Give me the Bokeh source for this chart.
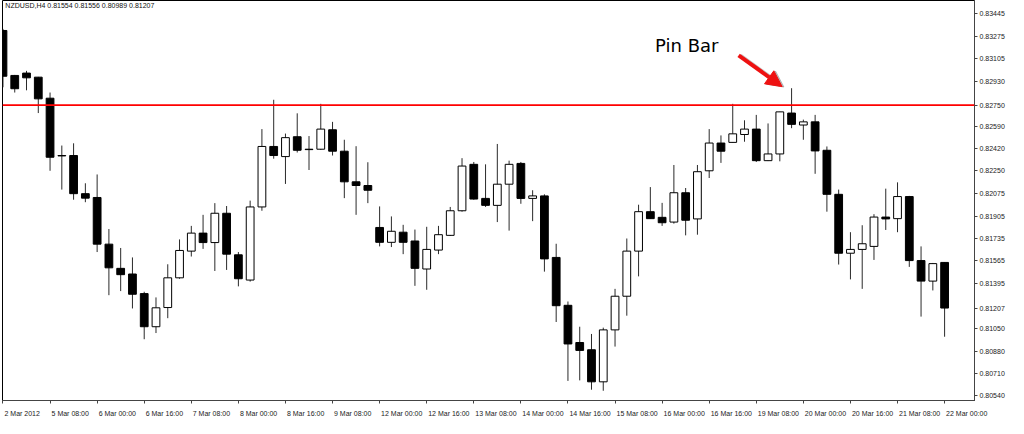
from bokeh.plotting import figure
from bokeh.models import (ColumnDataSource, FixedTicker, Span, Label, LinearAxis,
                          Arrow, NormalHead, Range1d)
from bokeh.embed import file_html
from bokeh.resources import INLINE

# ---- data (NZDUSD, H4) ----
opens = [0.83318, 0.82976, 0.82994, 0.82963, 0.82803, 0.82367, 0.82367, 0.82077, 0.82048, 0.81693,
         0.81509, 0.81466, 0.81317, 0.81065, 0.81211, 0.81437, 0.81640, 0.81777, 0.81705, 0.81928,
         0.81612, 0.81420, 0.81976, 0.82436, 0.82359, 0.82510, 0.82415, 0.82415, 0.82563, 0.82400,
         0.82167, 0.82139, 0.81820, 0.81707, 0.81784, 0.81717, 0.81504, 0.81648, 0.81760, 0.81947,
         0.82300, 0.82041, 0.81988, 0.82149, 0.82307, 0.82041, 0.82060, 0.81592, 0.81228, 0.80945,
         0.80890, 0.80646, 0.81041, 0.81297, 0.81640, 0.81940, 0.81897, 0.81861, 0.82084, 0.81885,
         0.82251, 0.82462, 0.82467, 0.82527, 0.82568, 0.82328, 0.82379, 0.82690, 0.82599, 0.82623,
         0.82407, 0.82072, 0.81624, 0.81653, 0.81676, 0.81899, 0.81887, 0.82055, 0.81568, 0.81412,
         0.81554]
highs = [0.83330, 0.82980, 0.83011, 0.82965, 0.82846, 0.82443, 0.82460, 0.82156, 0.82223, 0.81808,
         0.81664, 0.81592, 0.81331, 0.81288, 0.81540, 0.81729, 0.81832, 0.81916, 0.82005, 0.81983,
         0.81633, 0.82024, 0.82568, 0.82791, 0.82534, 0.82688, 0.82515, 0.82760, 0.82623, 0.82487,
         0.82438, 0.82316, 0.81980, 0.81904, 0.81840, 0.81804, 0.81825, 0.81832, 0.81976, 0.82347,
         0.82318, 0.82300, 0.82455, 0.82328, 0.82318, 0.82103, 0.82072, 0.81696, 0.81257, 0.81065,
         0.81010, 0.81058, 0.81353, 0.81736, 0.81993, 0.82127, 0.82007, 0.82295, 0.82120, 0.82295,
         0.82568, 0.82520, 0.82760, 0.82635, 0.82676, 0.82611, 0.82700, 0.82879, 0.82640, 0.82676,
         0.82436, 0.82108, 0.81784, 0.81837, 0.81921, 0.82115, 0.82163, 0.82060, 0.81676, 0.81550,
         0.81556]
lows = [0.82886, 0.82846, 0.82863, 0.82690, 0.82251, 0.82108, 0.82031, 0.82012, 0.81633, 0.81305,
        0.81336, 0.81204, 0.80970, 0.81017, 0.81130, 0.81430, 0.81599, 0.81657, 0.81489, 0.81497,
        0.81372, 0.81408, 0.81947, 0.82343, 0.82151, 0.82390, 0.82257, 0.82410, 0.82367, 0.82043,
        0.81916, 0.82005, 0.81676, 0.81671, 0.81617, 0.81376, 0.81346, 0.81617, 0.81755, 0.81940,
        0.82031, 0.81976, 0.81861, 0.81796, 0.82000, 0.81868, 0.81484, 0.81101, 0.80653, 0.80657,
        0.80586, 0.80578, 0.80914, 0.81149, 0.81448, 0.81885, 0.81832, 0.81849, 0.81760, 0.81765,
        0.82196, 0.82311, 0.82465, 0.82472, 0.82318, 0.82325, 0.82323, 0.82575, 0.82487, 0.82228,
        0.81940, 0.81538, 0.81425, 0.81353, 0.81573, 0.81801, 0.81784, 0.81520, 0.81142, 0.81341,
        0.80989]
closes = [0.82970, 0.82875, 0.82958, 0.82798, 0.82354, 0.82364, 0.82077, 0.82043, 0.81693, 0.81513,
          0.81461, 0.81312, 0.81065, 0.81209, 0.81437, 0.81645, 0.81777, 0.81705, 0.81928, 0.81617,
          0.81430, 0.81976, 0.82436, 0.82367, 0.82503, 0.82407, 0.82412, 0.82568, 0.82400, 0.82167,
          0.82139, 0.82103, 0.81707, 0.81791, 0.81707, 0.81509, 0.81653, 0.81765, 0.81947, 0.82287,
          0.82036, 0.81988, 0.82149, 0.82300, 0.82041, 0.82060, 0.81581, 0.81225, 0.80934, 0.80885,
          0.80646, 0.81041, 0.81297, 0.81640, 0.81940, 0.81887, 0.81856, 0.82084, 0.81875, 0.82244,
          0.82462, 0.82400, 0.82532, 0.82568, 0.82328, 0.82379, 0.82699, 0.82604, 0.82623, 0.82402,
          0.82072, 0.81624, 0.81653, 0.81696, 0.81899, 0.81885, 0.82055, 0.81568, 0.81412, 0.81545,
          0.81207]

x_tick_labels = ["2 Mar 2012", "5 Mar 08:00", "6 Mar 00:00", "6 Mar 16:00", "7 Mar 08:00",
                 "8 Mar 00:00", "8 Mar 16:00", "9 Mar 08:00", "12 Mar 00:00", "12 Mar 16:00",
                 "13 Mar 08:00", "14 Mar 00:00", "14 Mar 16:00", "15 Mar 08:00", "16 Mar 00:00",
                 "16 Mar 16:00", "19 Mar 08:00", "20 Mar 00:00", "20 Mar 16:00", "21 Mar 08:00",
                 "22 Mar 00:00"]
x_tick_bars = [0, 4, 8, 12, 16, 20, 24, 28, 32, 36, 40, 44, 48, 52, 56, 60, 64, 68, 72, 76, 80]
y_tick_values = [0.83445, 0.83275, 0.83105, 0.82930, 0.82750, 0.82590, 0.82420, 0.82250,
                 0.82075, 0.81905, 0.81735, 0.81565, 0.81395, 0.81207, 0.81050, 0.80880,
                 0.80710, 0.80540]

symbol_title = "NZDUSD,H4  0.81554 0.81556 0.80989 0.81207"
level_price = 0.82750
pin_text = "Pin Bar"
pin_text_pos = (55.4, 0.83201)
arrow_start = (62.5, 0.83129)
arrow_end = (66.2, 0.82891)

# ---- layout / style ----
FONT = "Liberation Sans"
FS = 7.0
FRAME_W = 972
FRAME_H = 400
X0, X1 = -0.04, 82.54
Y0, Y1 = 0.80504, 0.83546
px_per_bar = FRAME_W / (X1 - X0)

CHAR_EM = {" ": 0.278, ":": 0.278, "M": 0.833, "a": 0.556, "r": 0.333}


def text_w(s):
    return sum(CHAR_EM.get(c, 0.556) for c in s) * FS


# labels start just right of their tick (MT4 style): shift label centres
label_pos = [round(k + (1.5 + text_w(t) / 2) / px_per_bar, 4)
             for k, t in zip(x_tick_bars, x_tick_labels)]

idx = list(range(len(opens)))
bull = [c >= o for o, c in zip(opens, closes)]
src = ColumnDataSource(dict(
    x=idx, high=highs, low=lows,
    top=[max(o, c) for o, c in zip(opens, closes)],
    bottom=[min(o, c) for o, c in zip(opens, closes)],
    fill=["white" if b else "black" for b in bull],
))

p = figure(frame_width=FRAME_W, frame_height=FRAME_H, output_backend="svg",
           toolbar_location=None, x_range=Range1d(X0, X1), y_range=Range1d(Y0, Y1),
           y_axis_location="right", min_border_left=2, min_border_top=0,
           min_border_bottom=0, min_border_right=0)
p.xgrid.visible = False
p.ygrid.visible = False
p.outline_line_color = "#000000"
p.outline_line_width = 1
p.background_fill_color = "white"
p.border_fill_color = "white"

p.add_layout(Span(location=level_price, dimension="width", line_color="#ff0000",
                  line_width=1.6))

p.segment(x0="x", y0="low", x1="x", y1="high", source=src, line_color="#2a2a2a", line_width=1)
p.vbar(x="x", width=0.66, top="top", bottom="bottom", source=src,
       fill_color="fill", line_color="black", line_width=1)

# y axis (right)
ya = p.yaxis[0]
ya.ticker = FixedTicker(ticks=y_tick_values)
ya.major_label_overrides = {v: f"{v:.5f}" for v in y_tick_values}
ya.major_label_text_font = FONT
ya.major_label_text_font_size = f"{FS}px"
ya.major_label_text_color = "#222222"
ya.axis_line_color = "#444444"
ya.major_tick_line_color = "#444444"
ya.major_tick_in = 0
ya.major_tick_out = 3
ya.minor_tick_line_color = None
ya.major_label_standoff = 2

# x axis: tick marks at bars
xa = p.xaxis[0]
xa.ticker = FixedTicker(ticks=x_tick_bars)
xa.major_label_overrides = {k: "" for k in x_tick_bars}
xa.major_label_text_font_size = "1px"
xa.major_label_standoff = 0
xa.axis_line_color = "#444444"
xa.major_tick_line_color = "#444444"
xa.major_tick_in = 0
xa.major_tick_out = 3
xa.minor_tick_line_color = None

# x axis: left-aligned date labels
xa2 = LinearAxis(ticker=FixedTicker(ticks=label_pos),
                 major_label_overrides=dict(zip(label_pos, x_tick_labels)),
                 axis_line_color=None, major_tick_line_color=None,
                 minor_tick_line_color=None, major_label_standoff=0,
                 major_label_text_font=FONT, major_label_text_font_size=f"{FS}px",
                 major_label_text_color="#222222")
p.add_layout(xa2, "below")

# top-left title
p.add_layout(Label(x=0.2, y=0.83510, text=symbol_title, text_font=FONT,
                   text_font_size=f"{FS}px", text_color="#111111", text_baseline="middle"))

# annotation
p.add_layout(Arrow(x_start=arrow_start[0] + 0.15, y_start=arrow_start[1] - 0.00003,
                   x_end=arrow_end[0] + 0.15, y_end=arrow_end[1] - 0.00003,
                   line_color="#888888", line_alpha=0.5, line_width=4,
                   end=NormalHead(size=16, fill_color="#888888", fill_alpha=0.5,
                                  line_color="#888888", line_alpha=0.5)))
p.add_layout(Arrow(x_start=arrow_start[0], y_start=arrow_start[1],
                   x_end=arrow_end[0], y_end=arrow_end[1],
                   line_color="#ee1111", line_width=4,
                   end=NormalHead(size=16, fill_color="#ee1111", line_color="#ee1111")))
p.add_layout(Label(x=pin_text_pos[0], y=pin_text_pos[1], text=pin_text,
                   text_font="DejaVu Sans", text_font_size="18px", text_color="black",
                   text_baseline="middle"))

open("out.html", "w").write(file_html(p, INLINE))
